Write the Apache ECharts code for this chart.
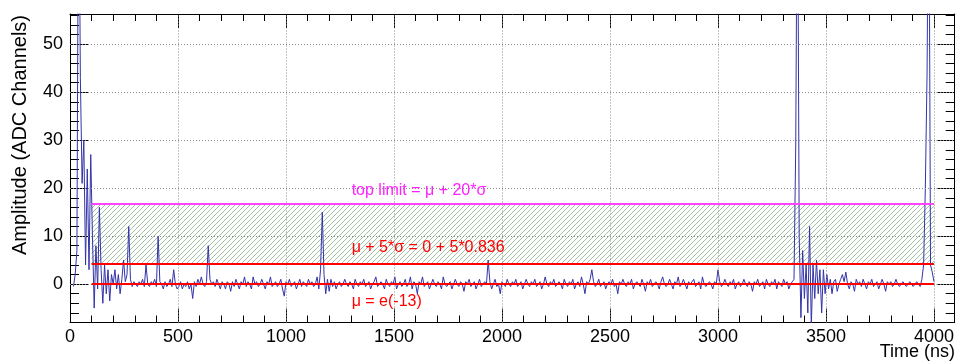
<!DOCTYPE html>
<html><head><meta charset="utf-8">
<script src="https://cdn.jsdelivr.net/npm/echarts@6/dist/echarts.min.js"></script>
<style>html,body{margin:0;padding:0;background:#fff}#c{width:957px;height:362px}</style>
</head><body><div id="c"></div>
<script>
// ---- data ----
const sampleStepNs = 8;
const amplitude = [
 null,null,-0.5,2,7,95,43,21,30,4,
 24,3,27,10,-5,8,-1,16,3,-4,
 4,-2,3,-3.5,2,0,3,-1,2,-2,
 1,5,0.5,2,12,1,-0.5,0.5,0,-0.5,
 0.5,0,1,-0.5,4,0,-0.5,0.5,0,1,
 -0.5,10,0.5,0,-1,0.5,-0.5,0,1,-0.5,
 3,0,-1,-0.5,0.5,-1,0,-0.5,0.5,-1,
 0,-3,0.5,-0.5,1,0,1.5,0,-0.5,0.5,
 8,1,0,0.5,-0.5,1,0,-1,0.5,0,
 -1,0.5,0,-1.5,0.5,-0.5,1,0,-1,0.5,
 0,1.5,-0.5,0.5,0,-1,1.5,0,0.5,-0.5,
 0,1,0,-1,0.5,0,1.5,-0.5,0,0.5,
 -0.5,0,1,-1,-2.5,0.5,0,1,-0.5,0,
 0.5,-1,0,1,-0.5,0.5,0,-0.5,1,0,
 0.5,-0.5,0,1.5,-1,3,15,2,-2,1,
 -1.5,1,-0.5,0.5,-1,0,0.5,-0.5,0,1,
 0,-0.5,0.5,0,-1,1,0,-0.5,0.5,0,
 1,-0.5,0,0.5,-1,0,0.5,1.5,-0.5,0,
 0.5,0,-1,1,0,-0.5,0.5,0,1.5,-1,
 0,0.5,-0.5,0,1,-0.5,0,1.5,-1,0.5,
 0,-2,0.5,0,1.5,-0.5,0,0.5,-1,0,
 1,0,-0.5,0.5,0,-1,1.5,0,-0.5,0,
 0.5,-1,0,1,0,-0.5,0.5,0,-1.5,0.5,
 0,1,-0.5,0,0.5,-1,0,1,-0.5,0,
 0.5,0,5,0.5,-1,0,1,-0.5,0,-2,
 0.5,0,-0.5,1,0,-0.5,0.5,0,1,-0.5,
 0,0.5,-1,0,1,0,-0.5,0.5,0,1,
 -0.5,0,0.5,-1,0,1.5,0,-0.5,0.5,0,
 1,-0.5,0,0.5,0,-1,1,0,-0.5,0.5,
 0,1,-1,0,0.5,-0.5,1.5,0,-2,0.5,
 0,1,3,0.5,-0.5,0,1,-0.5,0,0.5,
 -1,0,0.5,0,1,-0.5,0,-2,0.5,0,
 1,0,-0.5,0.5,0,1,-1,0,0.5,0,
 -0.5,1,0,-1.5,0.5,0,1,-0.5,0,0.5,
 0,-1,0.5,1.5,0,-0.5,0,1,0,-1,
 0.5,0,1.5,-0.5,0,1,0,-1,0.5,0,
 0,1,-0.5,0,0.5,-1,1.5,0,-0.5,0,
 0.5,0,-1,0.5,0,3,0.5,-0.5,0,1,
 0,-0.5,0.5,0,1,-1,0,0.5,-0.5,0,
 1,0,-0.5,0.5,0,-1.5,0.5,0,1,-0.5,
 0,0.5,-1,1,0,-0.5,0.5,0,1,-1,
 0.5,0,-0.5,1,0,0.5,-1,0,0.5,1,
 29,95,10,-7,7,-3,4,-6,12,-9,
 4,-3,5,-2,3,-6,3,-2,2,-1,
 1,-2,0.5,1,-1.5,0,1,2,0.5,2.5,
 0,-1,0.5,0,-1.5,1,0,0.5,-0.5,1,
 0,-1,0.5,0,1,-0.5,0,0.5,-1,0,
 1,0,-1.5,0.5,0,0.5,-0.5,0,1,0,
 -0.5,0,0.5,0,-0.5,0,0.5,0,-0.5,0,
 0.5,0,-0.5,1,4,20,44,95,4,2.5,
 0.5
];
const xMajorTicks = [0, 500, 1000, 1500, 2000, 2500, 3000, 3500, 4000];
const yMajorTicks = [0, 10, 20, 30, 40, 50];
const mu = 0;
const sigma = 0.836;
const lowLimit = mu + 5 * sigma;
const topLimit = mu + 20 * sigma;
const limitRange = [100, 4000];
const annotations = [
  { text: 'top limit = \u03bc + 20*\u03c3', x: 1304, y: 19.4, color: '#ff22ff' },
  { text: '\u03bc + 5*\u03c3 = 0 + 5*0.836', x: 1304, y: 7.6, color: '#ff0000' },
  { text: '\u03bc = e(-13)', x: 1304, y: -3.6, color: '#ff0000' }
];
const xRange = [0, 4096];
const yRange = [-8, 56.3];

// ---- chart ----
const FONT = "'Liberation Sans', Arial, Helvetica, sans-serif";
const chart = echarts.init(document.getElementById('c'), null, { renderer: 'canvas' });

function hatchPattern() {
  const s = 5;
  const c = document.createElement('canvas');
  c.width = s; c.height = s;
  const g = c.getContext('2d');
  g.strokeStyle = 'rgba(85,140,85,0.55)';
  g.lineWidth = 1;
  g.beginPath();
  g.moveTo(0, s); g.lineTo(s, 0);
  g.moveTo(-1, 1); g.lineTo(1, -1);
  g.moveTo(s - 1, s + 1); g.lineTo(s + 1, s - 1);
  g.stroke();
  return c;
}

const traceData = amplitude.map((v, i) => [i * sampleStepNs, v]);

function xAx(pos, interval, len, showLine, showLabel) {
  return {
    type: 'value', position: pos, min: xRange[0], max: xRange[1], interval: interval,
    axisLine: { show: showLine, onZero: false, lineStyle: { color: '#000', width: 1 } },
    axisTick: { show: true, inside: true, length: len, lineStyle: { color: '#000', width: 1 } },
    axisLabel: { show: showLabel, color: '#000', fontSize: 18, fontFamily: FONT, margin: 6, showMaxLabel: false,
      formatter: v => String(v) },
    splitLine: { show: false }
  };
}
function yAx(pos, minor, showLine, showLabel) {
  const a = {
    type: 'value', position: pos, min: yRange[0], max: yRange[1], interval: 2,
    axisLine: { show: showLine, onZero: false, lineStyle: { color: '#000', width: 1 } },
    axisTick: { show: true, inside: true, length: minor ? 9 : 18, lineStyle: { color: '#000', width: 1 } },
    axisLabel: { show: showLabel, color: '#000', fontSize: 18, fontFamily: FONT, margin: 7,
      formatter: v => (Math.abs(v % 10) < 1e-9 ? String(v) : ''), showMaxLabel: false, showMinLabel: false },
    splitLine: { show: false }
  };
  if (!minor) { a.axisTick.customValues = yMajorTicks; }
  return a;
}

const gridLines = [];
yMajorTicks.forEach(v => gridLines.push({ yAxis: v }));
xMajorTicks.slice(1).forEach(v => gridLines.push({ xAxis: v }));

chart.setOption({
  animation: false,
  backgroundColor: '#fff',
  grid: { left: 70, right: 1, top: 14, bottom: 39.5, containLabel: false },
  xAxis: [
    xAx('bottom', 500, 14, true, true),
    xAx('bottom', 100, 7, false, false),
    xAx('top', 500, 14, true, false),
    xAx('top', 100, 7, false, false)
  ],
  yAxis: [
    yAx('left', true, true, true),
    yAx('left', false, false, false),
    yAx('right', true, true, false),
    yAx('right', false, false, false)
  ],
  series: [
    {
      name: 'grid', type: 'line', data: [], z: 1, silent: true,
      markLine: {
        silent: true, symbol: ['none', 'none'], label: { show: false },
        lineStyle: { color: '#8a8a8a', width: 1, type: [1, 2] },
        data: gridLines
      }
    },
    {
      name: 'band', type: 'line', data: [], z: 2, silent: true,
      markArea: {
        silent: true, label: { show: false },
        itemStyle: { color: { image: hatchPattern(), repeat: 'repeat' } },
        data: [[{ coord: [limitRange[0], lowLimit] }, { coord: [limitRange[1], topLimit] }]]
      }
    },
    {
      name: 'trace', type: 'line', data: traceData, z: 3, showSymbol: false, symbol: 'none',
      sampling: null, connectNulls: false, clip: true,
      lineStyle: { color: '#3333a8', width: 1 }
    },
    {
      name: 'limits', type: 'line', data: [], z: 4, silent: true,
      markLine: {
        silent: true, symbol: ['none', 'none'], label: { show: false },
        data: [
          [{ coord: [limitRange[0], topLimit], lineStyle: { color: '#ff44ff', width: 2, type: 'solid' } }, { coord: [limitRange[1], topLimit] }],
          [{ coord: [limitRange[0], lowLimit], lineStyle: { color: '#ff0000', width: 2, type: 'solid' } }, { coord: [limitRange[1], lowLimit] }],
          [{ coord: [limitRange[0], mu], lineStyle: { color: '#ff0000', width: 2, type: 'solid' } }, { coord: [limitRange[1], mu] }]
        ]
      }
    }
  ]
});

const g = annotations.map(a => {
  const p = chart.convertToPixel({ gridIndex: 0 }, [a.x, a.y]);
  return { type: 'text', x: p[0], y: p[1], z: 10,
    style: { text: a.text, fill: a.color, font: '16px ' + FONT, textAlign: 'left', textVerticalAlign: 'middle' } };
});
g.push({ type: 'text', x: 20, y: 15, rotation: Math.PI / 2, z: 10,
  style: { text: 'Amplitude (ADC Channels)', fill: '#000', font: '20px ' + FONT, textAlign: 'right', textVerticalAlign: 'middle' } });
g.push({ type: 'text', x: 955, y: 352, z: 10,
  style: { text: 'Time (ns)', fill: '#000', font: '18px ' + FONT, textAlign: 'right', textVerticalAlign: 'middle' } });
chart.setOption({ graphic: g });
</script>
</body></html>
